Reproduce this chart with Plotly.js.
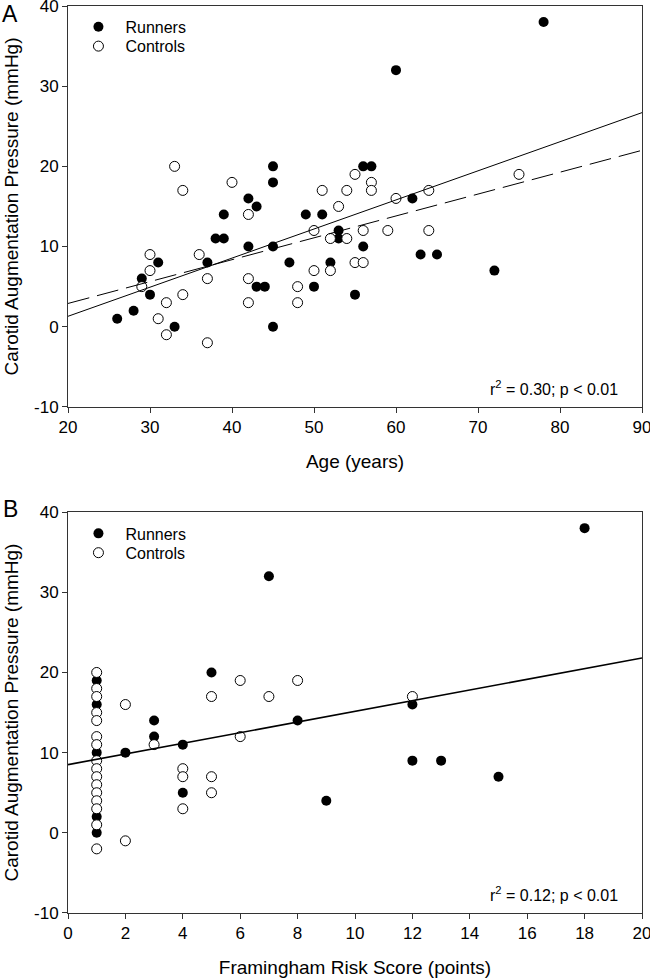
<!DOCTYPE html>
<html><head><meta charset="utf-8">
<script src="https://cdn.plot.ly/plotly-3.0.1.min.js"></script>
<style>html,body{margin:0;padding:0;background:#fff}</style>
</head><body><div id="chart" style="width:650px;height:980px"></div>
<script>
// Panel A: Age vs carotid augmentation pressure
const ageRunners =   [26,28,29,30,31,33,37,38,39,39,42,43,42,43,44,45,45,45,45,47,49,51,50,52,53,53,55,56,57,62,56,63,65,72,60,78];
const capRunnersA =  [ 1, 2, 6, 4, 8, 0, 8,11,11,14,16,15,10, 5, 5,20,18,10, 0, 8,14,14, 5, 8,12,11, 4,20,20,16,10, 9, 9, 7,32,38];
const ageControls =  [33,34,40,42,30,30,29,32,31,32,34,36,37,37,42,42,48,48,50,50,51,52,52,53,54,54,55,55,57,57,60,64,75,56,59,64,56];
const capControlsA = [20,17,18,14, 9, 7, 5, 3, 1,-1, 4, 9, 6,-2, 6, 3, 5, 3,12, 7,17,11, 7,15,17,11,19, 8,18,17,16,17,19,12,12,12, 8];
// regression lines (fit values at the axis ends)
const fitAgeX = [20, 90];
const fitAgeSolidY = [1.3, 26.7];
const fitAgeDashY = [2.9, 22.0];

// Panel B: Framingham risk score vs carotid augmentation pressure
const frsRunners =   [1, 1, 1,1,1, 2, 3, 3, 4,4, 5, 7, 8,9,12,12,13,15,18];
const capRunnersB =  [19,16,10,2,0,10,14,12,11,5,20,32,14,4,16, 9, 9, 7,38];
const frsControls =  [1, 1, 1, 1, 1, 1, 1,1,1,1,1,1,1,1,1, 1, 2, 2, 3,4,4,4, 5,5,5, 6, 6, 7, 8,12];
const capControlsB = [20,18,17,15,14,12,11,9,8,7,6,5,4,3,1,-2,16,-1,11,8,7,3,17,7,5,19,12,17,19,17];
const fitFrsX = [0, 20];
const fitFrsY = [8.5, 21.8];

// ticks
const ageTicks = [20,30,40,50,60,70,80,90];
const frsTicks = [0,2,4,6,8,10,12,14,16,18,20];
const capTicks = [-10,0,10,20,30,40];
const capTickLabels = ['-10','0','10','20','30','40'];

const seriesNames = ['Runners','Controls'];
const statsA = 'r<sup>2</sup> = 0.30; p < 0.01';
const statsB = 'r<sup>2</sup> = 0.12; p < 0.01';
const yTitle = 'Carotid Augmentation Pressure (mmHg)';

const FONT = 'Liberation Sans, Arial, sans-serif';
const filled = {symbol:'circle', size:10, color:'#000', line:{width:0}};
const open = {symbol:'circle', size:10, color:'#fff', line:{width:1, color:'#000'}};

const traces = [
  {x:ageRunners, y:capRunnersA, mode:'markers', type:'scatter', name:seriesNames[0], marker:filled, xaxis:'x', yaxis:'y', legend:'legend'},
  {x:ageControls, y:capControlsA, mode:'markers', type:'scatter', name:seriesNames[1], marker:open, xaxis:'x', yaxis:'y', legend:'legend2'},
  {x:fitAgeX, y:fitAgeSolidY, mode:'lines', type:'scatter', line:{color:'#000', width:1}, showlegend:false, xaxis:'x', yaxis:'y', hoverinfo:'skip'},
  {x:fitAgeX, y:fitAgeDashY, mode:'lines', type:'scatter', line:{color:'#000', width:1, dash:'22px,8px'}, showlegend:false, xaxis:'x', yaxis:'y', hoverinfo:'skip'},
  {x:frsRunners, y:capRunnersB, mode:'markers', type:'scatter', name:seriesNames[0], marker:filled, xaxis:'x2', yaxis:'y2', legend:'legend3'},
  {x:frsControls, y:capControlsB, mode:'markers', type:'scatter', name:seriesNames[1], marker:open, xaxis:'x2', yaxis:'y2', legend:'legend4'},
  {x:fitFrsX, y:fitFrsY, mode:'lines', type:'scatter', line:{color:'#000', width:1.6}, showlegend:false, xaxis:'x2', yaxis:'y2', hoverinfo:'skip'}
];

const axisCommon = {
  showline:true, mirror:true, linecolor:'#333', linewidth:1,
  ticks:'outside', ticklen:5, tickwidth:1, tickcolor:'#333',
  showgrid:false, zeroline:false,
  tickfont:{family:FONT, size:17, color:'#000'},
  ticklabeloverflow:'allow',
  automargin:false
};
const titleFont = {family:FONT, size:19, color:'#000'};

function legendAt(y){
  return {x:0.006, y:y, xanchor:'left', yanchor:'top', bgcolor:'rgba(0,0,0,0)', borderwidth:0,
    font:{family:FONT, size:16, color:'#000'}, itemwidth:44, tracegroupgap:0};
}

const layout = {
  width:650, height:980,
  paper_bgcolor:'#fff', plot_bgcolor:'#fff',
  margin:{l:68, r:8, t:6, b:67},
  font:{family:FONT, color:'#000'},
  showlegend:true,
  xaxis: Object.assign({}, axisCommon, {domain:[0,1], range:[20,90], tickvals:ageTicks, anchor:'y',
    title:{text:'Age (years)', font:titleFont, standoff:18}}),
  yaxis: Object.assign({}, axisCommon, {domain:[0.558,1], range:[-10,40], tickvals:capTicks, ticktext:capTickLabels, anchor:'x',
    title:{text:yTitle, font:titleFont, standoff:10}}),
  xaxis2: Object.assign({}, axisCommon, {domain:[0,1], range:[0,20], tickvals:frsTicks, anchor:'y2',
    title:{text:'Framingham Risk Score (points)', font:titleFont, standoff:18}}),
  yaxis2: Object.assign({}, axisCommon, {domain:[0,0.442], range:[-10,40], tickvals:capTicks, ticktext:capTickLabels, anchor:'x2',
    title:{text:yTitle, font:titleFont, standoff:10}}),
  legend: legendAt(0.9958),
  legend2: legendAt(0.9744),
  legend3: legendAt(0.4372),
  legend4: legendAt(0.4159),
  annotations:[
    {xref:'x domain', yref:'y domain', x:0.962, y:0.047, xanchor:'right', yanchor:'middle', text:statsA, showarrow:false, font:{family:FONT, size:16, color:'#000'}},
    {xref:'x2 domain', yref:'y2 domain', x:0.962, y:0.047, xanchor:'right', yanchor:'middle', text:statsB, showarrow:false, font:{family:FONT, size:16, color:'#000'}},
    {xref:'paper', yref:'paper', x:-0.101, y:0.991, xanchor:'center', yanchor:'middle', text:'A', showarrow:false, font:{family:FONT, size:23, color:'#000'}},
    {xref:'paper', yref:'paper', x:-0.101, y:0.4454, xanchor:'center', yanchor:'middle', text:'B', showarrow:false, font:{family:FONT, size:23, color:'#000'}}
  ]
};

Plotly.newPlot('chart', traces, layout, {staticPlot:true, displayModeBar:false});
</script>
</body></html>
